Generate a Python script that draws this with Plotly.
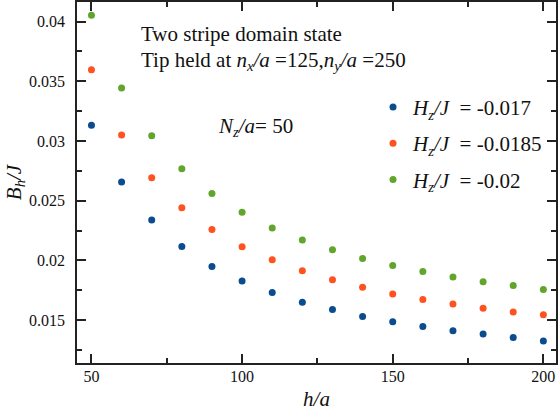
import plotly.graph_objects as go

h_a = [50, 60, 70, 80, 90, 100, 110, 120, 130, 140, 150, 160, 170, 180, 190, 200]
b_017 = [0.03133, 0.02656, 0.02339, 0.02117, 0.01950, 0.01828, 0.01731, 0.01650,
         0.01589, 0.01531, 0.01486, 0.01447, 0.01411, 0.01383, 0.01354, 0.01325]
b_0185 = [0.03597, 0.03050, 0.02692, 0.02442, 0.02258, 0.02114, 0.02006, 0.01914,
          0.01839, 0.01775, 0.01719, 0.01672, 0.01636, 0.01600, 0.01569, 0.01545]
b_02 = [0.04053, 0.03444, 0.03044, 0.02767, 0.02561, 0.02403, 0.02272, 0.02172,
        0.02089, 0.02017, 0.01958, 0.01908, 0.01861, 0.01822, 0.01789, 0.01756]

series_names = ["<i>H</i><sub><i>z</i></sub><i>/J</i>  = -0.017",
                "<i>H</i><sub><i>z</i></sub><i>/J</i>  = -0.0185",
                "<i>H</i><sub><i>z</i></sub><i>/J</i>  = -0.02"]
colors = ["#0A4C8E", "#FF5220", "#62A52B"]
x_ticks = [50, 100, 150, 200]
y_ticks = [0.015, 0.02, 0.025, 0.03, 0.035, 0.04]
y_ticktext = ["0.015", "0.02", "0.025", "0.03", "0.035", "0.04"]

FONT = "Liberation Serif, Times New Roman, serif"

fig = go.Figure()
for i, (name, ys, c) in enumerate(zip(series_names, [b_017, b_0185, b_02], colors)):
    fig.add_trace(go.Scatter(x=h_a, y=ys, mode="markers", name=name, legendgroup=f"g{i}",
                             marker=dict(color=c, size=7, line=dict(width=0))))

axis_common = dict(
    showline=True, linecolor="#222", linewidth=1.5, mirror="ticks",
    ticks="inside", ticklen=9, tickwidth=1.5, tickcolor="#222",
    showgrid=False, zeroline=False,
    tickfont=dict(family=FONT, size=16, color="#111"),
)

fig.update_xaxes(
    range=[45.2, 204.2], tickvals=x_ticks,
    minor=dict(ticks="inside", ticklen=5, tickwidth=1.5, tickcolor="#222",
               tickvals=[75, 125, 175], showgrid=False),
    title=dict(text="<i>h/a</i>", font=dict(family=FONT, size=21, color="#111"), standoff=8),
    ticklabelstandoff=-2,
    **axis_common,
)
fig.update_yaxes(
    range=[0.011408, 0.041645], tickvals=y_ticks, ticktext=y_ticktext,
    minor=dict(ticks="inside", ticklen=5, tickwidth=1.5, tickcolor="#222",
               tickvals=[0.0125, 0.0175, 0.0225, 0.0275, 0.0325, 0.0375], showgrid=False),
    title=dict(text="<i>B</i><sub><i>h</i></sub><i>/J</i>", font=dict(family=FONT, size=21, color="#111"), standoff=2),
    ticklabelstandoff=7,
    **axis_common,
)

fig.add_annotation(
    xref="paper", yref="paper", x=0.1304, y=0.9116, xanchor="left", yanchor="middle",
    showarrow=False, text="Two stripe domain state",
    font=dict(family=FONT, size=21, color="#111"),
)
fig.add_annotation(
    xref="paper", yref="paper", x=0.1304, y=0.837, xanchor="left", yanchor="middle",
    showarrow=False,
    text="Tip held at <i>n</i><sub><i>x</i></sub><i>/a</i> =125,<i>n</i><sub><i>y</i></sub><i>/a</i> =250",
    font=dict(family=FONT, size=21, color="#111"),
)
fig.add_annotation(
    xref="paper", yref="paper", x=0.2900, y=0.6528, xanchor="left", yanchor="middle",
    showarrow=False,
    text="<i>N</i><sub><i>z</i></sub><i>/a</i>= 50",
    font=dict(family=FONT, size=21, color="#111"),
)

fig.update_layout(
    width=558, height=411,
    margin=dict(l=76.5, r=0, t=1, b=48),
    paper_bgcolor="white", plot_bgcolor="white",
    font=dict(family=FONT, size=16, color="#111"),
    showlegend=True,
    legend=dict(x=0.618, y=0.765, xanchor="left", yanchor="top",
                bgcolor="rgba(0,0,0,0)", borderwidth=0,
                font=dict(family=FONT, size=21, color="#111"),
                itemwidth=30, tracegroupgap=6),
)

fig.write_html("out.html")
